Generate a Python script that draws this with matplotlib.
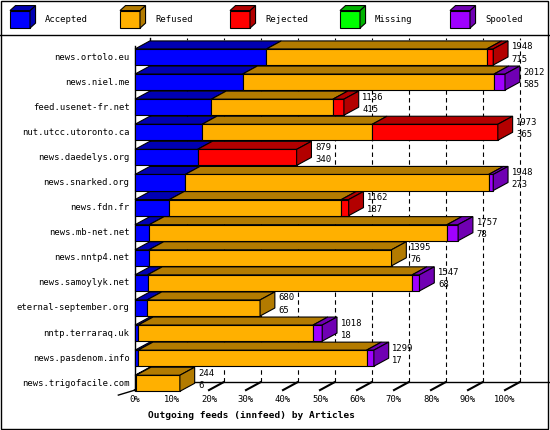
import matplotlib
matplotlib.use("Agg")
import matplotlib.pyplot as plt
from matplotlib.patches import Polygon, Rectangle
from matplotlib.colors import to_rgb

hosts = ["news.ortolo.eu", "news.niel.me", "feed.usenet-fr.net", "nut.utcc.utoronto.ca",
         "news.daedelys.org", "news.snarked.org", "news.fdn.fr", "news.mb-net.net",
         "news.nntp4.net", "news.samoylyk.net", "eternal-september.org", "nntp.terraraq.uk",
         "news.pasdenom.info", "news.trigofacile.com"]
totals = [1948, 2012, 1136, 1973, 879, 1948, 1162, 1757, 1395, 1547, 680, 1018, 1299, 244]
accepted = [715, 585, 415, 365, 340, 273, 187, 78, 76, 68, 65, 18, 17, 6]
rejected = [35, 0, 60, 683, 539, 0, 40, 0, 0, 0, 0, 0, 0, 0]
missing = [0] * 14
spooled = [0, 60, 0, 0, 0, 25, 0, 60, 0, 40, 0, 50, 40, 0]
refused = [t - a - r - m - s for t, a, r, m, s in zip(totals, accepted, rejected, missing, spooled)]
series = ["Accepted", "Refused", "Rejected", "Missing", "Spooled"]
colors = ["#0000ff", "#ffb000", "#ff0000", "#00ff00", "#a000ff"]
ticks = list(range(0, 101, 10))
xlabel = "Outgoing feeds (innfeed) by Articles"

MAXV = max(totals)
PX = 3.7  # pixels per percent
fig = plt.figure(figsize=(5.5, 4.3), dpi=100)
ax = fig.add_axes([0, 0, 1, 1])
ax.set_xlim(-135 / PX, (550 - 135) / PX)
ax.set_ylim((430 - 57) / 25.1, -57 / 25.1)
ax.axis("off")
mono = "DejaVu Sans Mono"
FS = 6.4

def dark(c, f):
    r, g, b = to_rgb(c)
    return (r * f, g * f, b * f)

DX, DY, H = 4.0, 0.32, 0.32
floor = 13.27
top = -0.75
# back wall and floor
ax.plot([DX, DX], [floor - DY, top], color="k", lw=1)
ax.plot([0, 0], [floor, top + 0.3], color="k", lw=1)
ax.plot([-4.5, 0, DX], [floor + 0.2, floor, floor - DY], color="k", lw=1)
ax.plot([DX, 100 + DX + 10], [floor - DY, floor - DY], color="k", lw=1)
ax.plot([100 + DX + 10, 100 + DX + 10], [floor - DY, top - 0.1], color="k", lw=1)
for t in ticks:
    ax.plot([t, t + DX], [floor, floor - DY], color="k", lw=1.5)
    if t > 0:
        ax.plot([t + DX, t + DX], [floor - DY, top], color="k", lw=0.8, ls=(0, (4, 3)))
    ax.text(t, floor + 0.18, f"{t}%", ha="center", va="top", fontsize=FS, family=mono)
ax.text(3.5, floor + 0.82, xlabel, ha="left", va="top", fontsize=FS + 0.4, family=mono, weight="bold")

for i, h in enumerate(hosts):
    vals = [accepted[i], refused[i], rejected[i], missing[i], spooled[i]]
    x0 = 0
    last = None
    for v, c in zip(vals, colors):
        if v <= 0:
            continue
        w = v / MAXV * 100
        x1 = x0 + w
        ax.add_patch(Polygon([(x0, i - H), (x1, i - H), (x1 + DX, i - H - DY), (x0 + DX, i - H - DY)],
                             closed=True, fc=dark(c, 0.7), ec="k", lw=0.8, zorder=3))
        ax.add_patch(Rectangle((x0, i - H), w, 2 * H, fc=c, ec="k", lw=0.8, zorder=4))
        last = (x1, c)
        x0 = x1
    x1, c = last
    ax.add_patch(Polygon([(x1, i - H), (x1, i + H), (x1 + DX, i + H - DY), (x1 + DX, i - H - DY)],
                         closed=True, fc=dark(c, 0.7), ec="k", lw=0.8, zorder=5))
    ax.text(x1 + DX + 1, i - 0.4, str(totals[i]), ha="left", va="center", fontsize=FS, family=mono, zorder=6)
    ax.text(x1 + DX + 1, i + 0.08, str(accepted[i]), ha="left", va="center", fontsize=FS, family=mono, zorder=6)
    ax.text(-1.5, i, h, ha="right", va="center", fontsize=FS, family=mono)

# legend
for k, (s, c) in enumerate(zip(series, colors)):
    lx = (10 + k * 110 - 135) / PX
    w = 20 / PX
    yt, yb = -1.85, -1.15
    ax.add_patch(Rectangle((lx, yt), w, yb - yt, fc=c, ec="k", lw=0.8))
    ax.add_patch(Polygon([(lx + w, yt), (lx + w, yb), (lx + w + 1.5, yb - 0.2), (lx + w + 1.5, yt - 0.2)],
                         closed=True, fc=dark(c, 0.7), ec="k", lw=0.8))
    ax.add_patch(Polygon([(lx, yt), (lx + w, yt), (lx + w + 1.5, yt - 0.2), (lx + 1.5, yt - 0.2)],
                         closed=True, fc=dark(c, 0.7), ec="k", lw=0.8))
    ax.text((45 + k * 110 - 135) / PX, -1.5, s, ha="left", va="center", fontsize=FS, family=mono)
ax.plot([-135 / PX, (550 - 135) / PX], [-0.88, -0.88], color="k", lw=1)
fig.patches.append(Rectangle((0.002, 0.002), 0.995, 0.995, transform=fig.transFigure, fill=False, ec="k", lw=1))
fig.savefig("out.png", dpi=100, facecolor="white")
